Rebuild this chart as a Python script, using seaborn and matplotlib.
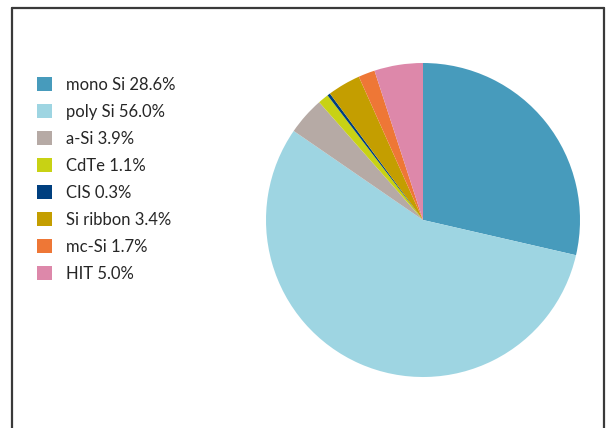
import matplotlib
matplotlib.use("Agg")
import matplotlib.pyplot as plt
from matplotlib.lines import Line2D
from matplotlib.patches import Patch
import seaborn as sns

TECHS = ["mono Si", "poly Si", "a-Si", "CdTe", "CIS", "Si ribbon", "mc-Si", "HIT"]
SHARES = [28.6, 56.0, 3.9, 1.1, 0.3, 3.4, 1.7, 5.0]
COLORS = ["#479bbc", "#9ed5e2", "#b6aaa5", "#c8d214", "#003f7f",
          "#c49e00", "#ee7736", "#dd88aa"]

sns.set_theme(style="white")
plt.rcParams["font.family"] = ["Lato", "DejaVu Sans"]

W, H = 611, 428
fig = plt.figure(figsize=(W / 100, H / 100), dpi=100)

# frame (left, top, right; bottom runs off the picture)
fx0, fx1, fy1 = 12 / W, 604 / W, 1 - 7.5 / H
for xs, ys in [([fx0, fx0], [0, fy1]), ([fx0, fx1], [fy1, fy1]), ([fx1, fx1], [fy1, 0])]:
    fig.add_artist(Line2D(xs, ys, color="#3a3a3a", lw=1.6, transform=fig.transFigure))

ax = fig.add_axes([266 / W, 51 / H, 314 / W, 314 / H])
ax.pie(SHARES, colors=COLORS, startangle=90, counterclock=False,
       wedgeprops={"linewidth": 0})
ax.set_xlim(-1, 1)
ax.set_ylim(-1, 1)
ax.set_aspect("equal")
ax.axis("off")

handles = [Patch(facecolor=c, edgecolor="none") for c in COLORS]
labels = [f"{t} {s:.1f}%" for t, s in zip(TECHS, SHARES)]
fig.legend(handles, labels, loc="upper left", bbox_to_anchor=(37 / W, 1 - 77 / H),
           frameon=False, fontsize=12, handlelength=0.92, handleheight=0.92,
           handletextpad=0.8, labelspacing=0.66, borderaxespad=0, borderpad=0)

fig.savefig("out.png", dpi=100)
